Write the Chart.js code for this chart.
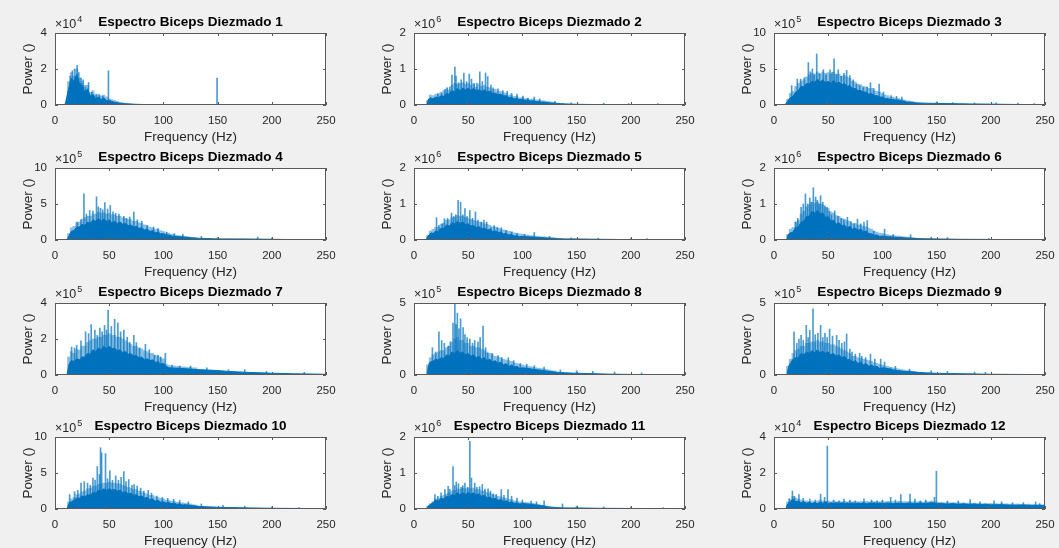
<!DOCTYPE html>
<html>
<head>
<meta charset="utf-8">
<script src="https://cdn.jsdelivr.net/npm/chart.js@4.4.1/dist/chart.umd.min.js"></script>
<style>
  body { margin: 0; background: #f0f0f0; width: 1059px; height: 548px; overflow: hidden; position: relative; }
  canvas { position: absolute; }
</style>
</head>
<body>
<script>
// Espectros de potencia, valores en unidades del multiplicador de cada eje (x10^exp)
const titles = [
  'Espectro Biceps Diezmado 1', 'Espectro Biceps Diezmado 2', 'Espectro Biceps Diezmado 3',
  'Espectro Biceps Diezmado 4', 'Espectro Biceps Diezmado 5', 'Espectro Biceps Diezmado 6',
  'Espectro Biceps Diezmado 7', 'Espectro Biceps Diezmado 8', 'Espectro Biceps Diezmado 9',
  'Espectro Biceps Diezmado 10', 'Espectro Biceps Diezmado 11', 'Espectro Biceps Diezmado 12'
];
const exponents = [4, 6, 5, 5, 6, 6, 5, 5, 5, 5, 6, 4];
const yMax = [4, 2, 10, 10, 2, 2, 4, 5, 5, 10, 2, 4];
const yStep = [2, 1, 5, 5, 1, 1, 2, 5, 5, 5, 1, 2];
const xTicks = [0, 50, 100, 150, 200, 250];

// [frecuencia Hz, potencia] - parte solida del espectro
const body1 = [[0,0],[9,0],[10,0.2],[12.5,0.9],[15,1.5],[17.5,1.3],[20,1.7],[22.5,1.2],[25,1.1],[27.5,0.7],[30,0.9],[32.5,0.5],[35,0.6],[37.5,0.35],[40,0.45],[42.5,0.3],[45,0.4],[47.5,0.25],[50,0.25],[55,0.15],[60,0.1],[65,0.07],[70,0.05],[80,0.03],[100,0.02],[150,0.02],[200,0.02],[250,0.02]];
const body2 = [[0,0],[12,0],[13,0.15],[15,0.2],[17.5,0.17],[20,0.22],[22.5,0.2],[25,0.26],[27.5,0.24],[30,0.32],[32.5,0.3],[35,0.4],[37.5,0.36],[40,0.46],[42.5,0.4],[45,0.47],[47.5,0.42],[50,0.46],[52.5,0.41],[55,0.46],[57.5,0.4],[60,0.42],[62.5,0.38],[65,0.42],[67.5,0.36],[70,0.38],[72.5,0.32],[75,0.33],[77.5,0.28],[80,0.3],[82.5,0.25],[85,0.26],[87.5,0.21],[90,0.21],[92.5,0.17],[95,0.18],[97.5,0.15],[100,0.16],[102.5,0.13],[105,0.14],[107.5,0.11],[110,0.12],[112.5,0.09],[115,0.1],[117.5,0.08],[120,0.08],[125,0.06],[130,0.05],[135,0.04],[140,0.03],[150,0.02],[160,0.015],[180,0.012],[200,0.01],[250,0.008]];
const body3 = [[0,0],[10,0],[11,0.2],[12.5,0.5],[15,1.0],[17.5,1.2],[20,1.8],[22.5,2.0],[25,2.6],[27.5,2.5],[30,3.0],[32.5,2.9],[35,3.3],[37.5,3.1],[40,3.6],[42.5,3.2],[45,3.5],[47.5,3.1],[50,3.3],[52.5,3.0],[55,3.4],[57.5,3.0],[60,3.2],[62.5,2.8],[65,3.0],[67.5,2.6],[70,2.7],[72.5,2.3],[75,2.3],[77.5,2.0],[80,2.0],[82.5,1.8],[85,1.8],[87.5,1.5],[90,1.6],[92.5,1.3],[95,1.3],[97.5,1.1],[100,1.1],[102.5,0.9],[105,0.9],[107.5,0.75],[110,0.8],[112.5,0.65],[115,0.7],[117.5,0.55],[120,0.55],[122.5,0.4],[125,0.4],[130,0.3],[140,0.25],[150,0.22],[160,0.2],[170,0.18],[180,0.15],[200,0.12],[220,0.08],[250,0.05]];
const body4 = [[0,0],[11,0],[12,0.3],[13,0.6],[15,1.2],[17.5,1.3],[20,1.8],[22.5,1.8],[25,2.2],[27.5,2.0],[30,2.5],[32.5,2.3],[35,2.8],[37.5,2.6],[40,3.0],[42.5,2.6],[45,2.9],[47.5,2.6],[50,2.8],[52.5,2.4],[55,2.6],[57.5,2.3],[60,2.5],[62.5,2.2],[65,2.3],[67.5,2.0],[70,2.1],[72.5,1.8],[75,1.9],[77.5,1.6],[80,1.7],[82.5,1.4],[85,1.5],[87.5,1.2],[90,1.3],[92.5,1.0],[95,1.1],[97.5,0.85],[100,0.9],[102.5,0.7],[105,0.7],[107.5,0.55],[110,0.5],[115,0.45],[120,0.4],[125,0.3],[130,0.25],[140,0.2],[150,0.15],[170,0.15],[190,0.12],[200,0.1],[220,0.05],[250,0.03]];
const body5 = [[0,0],[11.5,0],[12.5,0.1],[14,0.15],[16,0.2],[17.5,0.18],[20,0.25],[22.5,0.24],[25,0.33],[27.5,0.32],[30,0.42],[32.5,0.38],[35,0.48],[37.5,0.45],[40,0.52],[42.5,0.46],[45,0.5],[47.5,0.43],[50,0.45],[52.5,0.39],[55,0.4],[57.5,0.35],[60,0.37],[62.5,0.31],[65,0.33],[67.5,0.28],[70,0.3],[72.5,0.24],[75,0.25],[77.5,0.21],[80,0.22],[82.5,0.17],[85,0.18],[87.5,0.14],[90,0.15],[92.5,0.11],[95,0.12],[97.5,0.09],[100,0.1],[105,0.09],[110,0.08],[115,0.07],[120,0.06],[125,0.05],[130,0.04],[140,0.03],[150,0.03],[170,0.02],[200,0.01],[250,0.005]];
const body6 = [[0,0],[12,0],[13,0.15],[15,0.2],[17.5,0.22],[20,0.35],[22.5,0.36],[25,0.5],[27.5,0.52],[30,0.65],[32.5,0.66],[35,0.8],[37.5,0.75],[40,0.82],[42.5,0.72],[45,0.75],[47.5,0.62],[50,0.65],[52.5,0.52],[55,0.55],[57.5,0.44],[60,0.48],[62.5,0.39],[65,0.42],[67.5,0.34],[70,0.38],[72.5,0.3],[75,0.33],[77.5,0.27],[80,0.3],[82.5,0.23],[85,0.25],[87.5,0.18],[90,0.17],[92.5,0.13],[95,0.14],[97.5,0.1],[100,0.11],[105,0.09],[110,0.08],[115,0.07],[120,0.06],[125,0.05],[130,0.04],[140,0.035],[150,0.03],[170,0.02],[200,0.015],[250,0.01]];
const body7 = [[0,0],[11,0],[12,0.3],[13,0.6],[15,0.8],[17.5,0.75],[20,0.9],[22.5,0.85],[25,1.0],[27.5,1.0],[30,1.2],[32.5,1.15],[35,1.4],[37.5,1.3],[40,1.5],[42.5,1.4],[45,1.6],[47.5,1.45],[50,1.6],[52.5,1.45],[55,1.5],[57.5,1.35],[60,1.4],[62.5,1.25],[65,1.3],[67.5,1.15],[70,1.2],[72.5,1.05],[75,1.1],[77.5,0.95],[80,1.0],[82.5,0.85],[85,0.9],[87.5,0.8],[90,0.85],[92.5,0.7],[95,0.75],[97.5,0.6],[100,0.65],[102,0.5],[105,0.4],[110,0.38],[115,0.37],[120,0.35],[130,0.3],[140,0.28],[150,0.25],[160,0.2],[170,0.17],[180,0.14],[190,0.12],[200,0.1],[220,0.07],[250,0.04]];
const body8 = [[0,0],[12,0],[13,0.5],[14,0.8],[15,0.9],[17.5,0.95],[20,1.1],[22.5,1.05],[25,1.2],[27.5,1.15],[30,1.4],[32.5,1.3],[35,1.6],[37.5,1.5],[40,1.7],[42.5,1.5],[45,1.6],[47.5,1.4],[50,1.5],[52.5,1.3],[55,1.4],[57.5,1.2],[60,1.3],[62.5,1.1],[65,1.2],[67.5,1.0],[70,1.1],[72.5,0.9],[75,1.0],[77.5,0.8],[80,0.9],[82.5,0.7],[85,0.8],[87.5,0.6],[90,0.7],[92.5,0.55],[95,0.6],[97.5,0.45],[100,0.5],[105,0.45],[110,0.4],[115,0.35],[120,0.3],[130,0.2],[140,0.15],[150,0.12],[160,0.1],[170,0.08],[180,0.06],[200,0.04],[250,0.02]];
const body9 = [[0,0],[12,0],[13,0.4],[14,0.7],[15,0.8],[17.5,1.1],[20,1.2],[22.5,1.2],[25,1.5],[27.5,1.4],[30,1.6],[32.5,1.5],[35,1.7],[37.5,1.55],[40,1.75],[42.5,1.55],[45,1.65],[47.5,1.5],[50,1.6],[52.5,1.4],[55,1.5],[57.5,1.3],[60,1.4],[62.5,1.2],[65,1.3],[67.5,1.05],[70,1.1],[72.5,0.9],[75,1.0],[77.5,0.8],[80,0.9],[82.5,0.7],[85,0.8],[87.5,0.6],[90,0.7],[92.5,0.55],[95,0.6],[97.5,0.45],[100,0.5],[105,0.45],[110,0.35],[115,0.3],[120,0.25],[130,0.2],[140,0.15],[150,0.12],[160,0.1],[180,0.08],[200,0.05],[250,0.03]];
const body10 = [[0,0],[11,0],[12,0.4],[13,0.8],[15,1.0],[17.5,1.2],[20,1.5],[22.5,1.5],[25,1.8],[27.5,1.7],[30,2.0],[32.5,1.9],[35,2.3],[37.5,2.2],[40,2.6],[42.5,2.5],[45,2.8],[47.5,2.6],[50,2.8],[52.5,2.6],[55,2.7],[57.5,2.5],[60,2.6],[62.5,2.3],[65,2.4],[67.5,2.1],[70,2.2],[72.5,1.9],[75,2.0],[77.5,1.7],[80,1.8],[82.5,1.5],[85,1.6],[87.5,1.3],[90,1.4],[92.5,1.1],[95,1.2],[97.5,0.95],[100,1.0],[102.5,0.85],[105,0.9],[107.5,0.75],[110,0.8],[112.5,0.65],[115,0.7],[117.5,0.55],[120,0.6],[125,0.5],[130,0.4],[140,0.3],[150,0.25],[160,0.2],[170,0.18],[180,0.15],[200,0.1],[250,0.05]];
const body11 = [[0,0],[12,0],[13,0.08],[14,0.1],[15,0.12],[17.5,0.18],[20,0.25],[22.5,0.22],[25,0.3],[27.5,0.28],[30,0.35],[32.5,0.33],[35,0.4],[37.5,0.37],[40,0.45],[42.5,0.4],[45,0.45],[47.5,0.4],[50,0.46],[52.5,0.41],[55,0.45],[57.5,0.39],[60,0.42],[62.5,0.35],[65,0.38],[67.5,0.31],[70,0.33],[72.5,0.27],[75,0.3],[77.5,0.24],[80,0.26],[82.5,0.21],[85,0.23],[87.5,0.18],[90,0.2],[92.5,0.16],[95,0.17],[97.5,0.14],[100,0.15],[105,0.14],[110,0.12],[115,0.1],[120,0.08],[125,0.05],[130,0.04],[140,0.03],[150,0.03],[170,0.02],[200,0.015],[250,0.01]];
const body12 = [[0,0],[11,0],[12,0.2],[13,0.3],[15,0.4],[17.5,0.55],[20,0.4],[22.5,0.45],[25,0.35],[27.5,0.4],[30,0.32],[32.5,0.38],[35,0.3],[37.5,0.36],[40,0.3],[42.5,0.38],[45,0.32],[47.5,0.4],[50,0.3],[52.5,0.35],[55,0.3],[57.5,0.36],[60,0.3],[62.5,0.35],[65,0.3],[67.5,0.34],[70,0.3],[72.5,0.34],[75,0.28],[77.5,0.34],[80,0.3],[82.5,0.35],[85,0.29],[87.5,0.34],[90,0.3],[92.5,0.35],[95,0.29],[97.5,0.34],[100,0.3],[105,0.34],[110,0.29],[115,0.33],[120,0.3],[125,0.34],[130,0.29],[135,0.33],[140,0.3],[145,0.36],[150,0.3],[155,0.3],[160,0.27],[165,0.3],[170,0.26],[175,0.29],[180,0.25],[185,0.28],[190,0.24],[195,0.26],[200,0.23],[210,0.24],[220,0.21],[230,0.22],[240,0.19],[250,0.18]];

// franja difusa por encima de la parte solida, muestreada cada 2.5 Hz
const haloFreqs = [12.5,15,17.5,20,22.5,25,27.5,30,32.5,35,37.5,40,
  42.5,45,47.5,50,52.5,55,57.5,60,62.5,65,67.5,70,
  72.5,75,77.5,80,82.5,85,87.5,90,92.5,95,97.5,100,
  102.5,105,107.5,110,112.5,115,117.5,120,122.5,125,127.5,130,
  132.5,135,137.5,140,142.5,145,147.5,150,152.5,155,157.5,160,
  162.5,165,167.5,170,172.5,175,177.5,180,182.5,185,187.5,190,
  192.5,195,197.5,200,202.5,205,207.5,210,212.5,215,217.5,220,
  222.5,225,227.5,230,232.5,235,237.5,240,242.5,245,247.5,250];
const halo1 = [1.3,1.8,1.6,2.0,1.5,1.3,1.1,1.1,0.7,0.8,0.6,0.6,
  0.5,0.55,0.45,0.35,0.3,0.25,0.2,0.15,0.12,0.1,0.08,0.07];
const halo2 = [0.12,0.28,0.26,0.3,0.32,0.36,0.4,0.45,0.42,0.55,0.6,0.58,
  0.6,0.62,0.58,0.6,0.55,0.6,0.5,0.58,0.52,0.55,0.5,0.48,
  0.42,0.44,0.38,0.38,0.34,0.33,0.28,0.28,0.24,0.24,0.2,0.21,
  0.18,0.19,0.16,0.17,0.14,0.14,0.12,0.12,0.1,0.09,0.08,0.07];
const halo3 = [0.8,1.6,1.9,2.6,3.0,3.3,3.5,3.9,4.2,4.4,4.3,4.6,
  4.3,4.6,4.4,4.5,4.3,4.6,4.2,4.3,4.0,4.1,3.9,3.7,
  3.3,3.2,2.9,2.8,2.6,2.5,2.3,2.3,2.0,1.9,1.8,1.6,
  1.4,1.3,1.1,1.1,0.95,0.9,0.8,0.7,0.6,0.55,0.5,0.4];
const halo4 = [0.9,1.7,1.9,2.4,2.5,2.9,3.1,3.3,3.3,3.6,3.6,3.9,
  3.7,3.8,3.6,3.7,3.5,3.5,3.3,3.3,3.1,3.0,2.9,2.8,
  2.6,2.6,2.4,2.3,2.1,2.0,1.8,1.7,1.5,1.5,1.3,1.2,
  1.0,0.95,0.8,0.75,0.65,0.6,0.55,0.5,0.45,0.4,0.38,0.35];
const halo5 = [0.12,0.25,0.3,0.35,0.36,0.44,0.47,0.55,0.56,0.62,0.64,0.68,
  0.66,0.66,0.63,0.6,0.57,0.55,0.52,0.5,0.48,0.45,0.44,0.41,
  0.37,0.36,0.33,0.31,0.28,0.27,0.24,0.23,0.2,0.19,0.17,0.16,
  0.14,0.14,0.12,0.12,0.1,0.1,0.09,0.09,0.08,0.07,0.07,0.06];
const halo6 = [0.15,0.3,0.35,0.5,0.55,0.72,0.8,0.92,0.98,1.05,1.02,1.05,
  1.0,0.98,0.9,0.88,0.78,0.75,0.68,0.66,0.6,0.58,0.54,0.52,
  0.46,0.46,0.42,0.42,0.38,0.37,0.33,0.3,0.24,0.22,0.19,0.18,
  0.16,0.15,0.13,0.13,0.11,0.11,0.1,0.09,0.08,0.08,0.07,0.06];
const halo7 = [1.0,1.3,1.2,1.4,1.4,1.6,1.6,1.8,1.9,2.0,2.0,2.1,
  2.1,2.2,2.2,2.3,2.2,2.2,2.1,2.1,2.0,1.9,1.8,1.7,
  1.6,1.6,1.5,1.45,1.35,1.3,1.2,1.2,1.1,1.05,0.95,0.9,
  0.6,0.55,0.5,0.5,0.48,0.47,0.45,0.45,0.42,0.42,0.4,0.4];
const halo8 = [0.7,1.2,1.4,1.5,1.6,1.7,1.7,1.9,2.0,2.3,2.5,2.6,
  2.4,2.4,2.2,2.2,2.0,2.0,1.9,1.9,1.8,1.7,1.6,1.5,
  1.4,1.3,1.25,1.2,1.1,1.05,1.0,0.95,0.85,0.8,0.75,0.7,
  0.65,0.62,0.58,0.55,0.5,0.48,0.45,0.42,0.38,0.35,0.3,0.28];
const halo9 = [0.6,1.1,1.5,1.7,1.8,2.0,2.0,2.2,2.2,2.3,2.3,2.4,
  2.3,2.3,2.2,2.2,2.1,2.1,2.0,1.9,1.8,1.7,1.6,1.5,
  1.3,1.3,1.2,1.15,1.1,1.05,1.0,0.95,0.85,0.8,0.75,0.7,
  0.62,0.6,0.52,0.5,0.45,0.42,0.38,0.35,0.32,0.3,0.28,0.26];
const halo10 = [1.0,1.4,1.6,2.0,2.1,2.4,2.5,2.8,2.9,3.1,3.2,3.4,
  3.5,3.6,3.6,3.7,3.6,3.6,3.5,3.5,3.3,3.2,3.0,2.9,
  2.7,2.7,2.5,2.4,2.2,2.1,1.9,1.9,1.7,1.6,1.5,1.4,
  1.25,1.2,1.1,1.05,0.95,0.9,0.85,0.8,0.75,0.7,0.6,0.55];
const halo11 = [0.08,0.15,0.2,0.28,0.3,0.35,0.38,0.42,0.45,0.5,0.52,0.56,
  0.55,0.58,0.56,0.58,0.56,0.58,0.54,0.54,0.5,0.5,0.46,0.44,
  0.4,0.39,0.35,0.34,0.31,0.3,0.27,0.26,0.23,0.22,0.2,0.19,
  0.18,0.18,0.16,0.16,0.14,0.13,0.11,0.1,0.08,0.07,0.06,0.05];
const halo12 = [0.4,0.55,0.7,0.6,0.55,0.5,0.45,0.45,0.42,0.44,0.4,0.45,
  0.5,0.45,0.42,0.45,0.4,0.44,0.4,0.43,0.4,0.42,0.4,0.43,
  0.4,0.42,0.4,0.42,0.4,0.43,0.4,0.42,0.4,0.42,0.4,0.42,
  0.4,0.43,0.4,0.42,0.4,0.44,0.4,0.42,0.4,0.43,0.4,0.42,
  0.4,0.42,0.38,0.42,0.4,0.45,0.4,0.38,0.36,0.38,0.35,0.37,
  0.34,0.36,0.34,0.35,0.33,0.35,0.32,0.34,0.32,0.33,0.3,0.32,
  0.3,0.32,0.3,0.31,0.29,0.3,0.28,0.3,0.28,0.29,0.27,0.28,
  0.27,0.28,0.26,0.27,0.26,0.27,0.25,0.26,0.25,0.26,0.24,0.25];

// [frecuencia Hz, potencia] - picos aislados
const spikes1 = [[14,1.6],[16,1.9],[18,2.0],[20.5,2.2],[22,1.8],[24,1.5],[26,1.4],[28,1.0],[31,1.25],[34,0.7],[38,0.55],[41,0.55],[44,0.5],[49.3,1.9],[149.5,1.5]];
const spikes2 = [[22,0.3],[25.5,0.32],[28.5,0.43],[30.6,0.48],[33,0.5],[35,0.83],[37.7,1.05],[38.8,0.8],[41,0.62],[43.5,0.7],[46,0.89],[48.5,0.65],[51,0.86],[53,0.72],[55.5,0.58],[58,0.6],[60.7,0.92],[63,0.65],[66,0.89],[68,0.79],[71,0.55],[73,0.48],[77.5,0.45],[82,0.4],[86,0.38],[90,0.32],[95,0.3],[100.5,0.25],[105,0.18],[111,0.22],[116,0.17],[130,0.1],[145,0.06],[175,0.05],[198,0.04],[225,0.04]];
const spikes3 = [[16.3,2.7],[21.5,3.6],[24.6,3.6],[28,3.8],[31.7,5.9],[33.5,4.6],[35.4,5.0],[37,4.2],[39.4,7.1],[42,4.4],[45.5,4.9],[48,4.2],[51.7,4.9],[53.5,4.5],[55.4,6.4],[57.5,4.3],[59.3,4.9],[62,4.0],[64.5,4.4],[67,4.8],[70,4.1],[73,3.5],[76,2.9],[79,2.7],[82.4,2.4],[86,2.5],[89,3.1],[92,2.3],[97,2.9],[101,1.8],[108,1.3],[113,1.2],[118,1.1],[150,0.45],[165,0.35],[185,0.3],[205,0.3],[225,0.25],[240,0.2]];
const spikes4 = [[20.5,2.5],[24,2.8],[26.7,6.4],[29,3.6],[32,4.1],[35,4.0],[38.3,6.0],[40,4.6],[42,4.4],[44,4.2],[46,5.2],[48.5,4.3],[51,4.8],[53.5,3.9],[56,3.7],[59,3.6],[63.5,3.3],[66,3.0],[69,3.2],[72.7,3.9],[76,2.8],[80,2.6],[85,2.0],[91,1.8],[95,1.6],[103,1.1],[110,0.9],[118,0.8],[135,0.5],[150,0.35],[187,0.4],[200,0.3]];
const spikes5 = [[20.8,0.62],[23,0.4],[26,0.45],[28,0.59],[31,0.6],[34.6,0.75],[36.5,0.65],[38.5,0.7],[40.7,1.1],[43,1.05],[45,0.7],[47,0.87],[49,0.65],[51.5,0.82],[54,0.6],[56.7,0.78],[59,0.55],[62,0.5],[64.5,0.55],[67,0.5],[71,0.34],[74,0.4],[77,0.35],[80.5,0.34],[85,0.26],[90,0.22],[95,0.18],[102,0.16],[111,0.21],[125,0.1],[145,0.06],[170,0.05],[200,0.04],[215,0.04]];
const spikes6 = [[20,0.5],[22,0.6],[25,0.91],[27,1.0],[29,1.28],[31,1.0],[33,1.17],[34.5,1.05],[36.3,1.45],[38.4,1.19],[40,1.1],[41.5,1.0],[43,1.23],[45,1.05],[47,0.95],[49,0.91],[51,0.8],[53,0.7],[56,0.81],[59,0.65],[62,0.6],[64.5,0.55],[67.7,0.63],[71,0.5],[74,0.45],[77,0.58],[80,0.45],[83,0.5],[86,0.54],[92,0.25],[102,0.3],[110,0.15],[126,0.15],[145,0.08],[160,0.07],[198,0.04]];
const spikes7 = [[15.3,1.55],[18,1.5],[20,1.65],[24,1.9],[28.2,2.4],[31,2.3],[33.4,2.8],[36.8,2.5],[39,2.2],[41.4,2.6],[43.5,2.4],[45.7,2.75],[47.5,2.5],[49,3.6],[52,2.7],[55,3.1],[58,2.9],[60.5,2.4],[63.5,2.5],[66.6,2.1],[69,1.8],[72.7,2.2],[75,1.8],[78,1.5],[83.4,1.7],[87,1.4],[91.7,1.1],[95,1.1],[97.5,1.0],[101.8,1.2],[108,0.55],[115,0.5],[125,0.5],[140,0.4],[160,0.3],[175,0.3],[195,0.2],[230,0.15]];
const spikes8 = [[17,1.9],[20,1.6],[23,3.0],[25.5,2.4],[28,2.2],[31.5,2.0],[33.5,2.3],[36,3.6],[37.7,4.95],[38.8,3.5],[40,4.3],[41.5,3.2],[43,3.9],[45.3,3.3],[47,2.8],[49,2.6],[51.5,2.5],[54,2.2],[56,2.4],[59,2.3],[61,2.6],[63.7,3.4],[66,1.9],[68,1.5],[72,1.5],[77.5,1.35],[81,1.2],[87,1.2],[92,1.0],[98,0.8],[104,0.75],[111,0.65],[120,0.55],[135,0.35],[150,0.3],[165,0.25],[185,0.2],[210,0.15]];
const spikes9 = [[18.5,3.0],[21,2.2],[23,2.5],[25,2.75],[27,2.4],[29.8,3.45],[31.5,2.6],[33,3.1],[36,4.6],[38,2.8],[40.5,2.9],[43,3.45],[45,2.6],[47,2.9],[49,2.6],[51.3,3.2],[54,2.7],[57.8,2.75],[60,2.4],[62.5,2.2],[65,2.3],[67,2.85],[70,1.8],[72,1.6],[75,1.45],[79,1.5],[81,1.3],[84.5,1.2],[89,1.45],[93,1.1],[98.4,1.1],[102,0.9],[107.6,0.5],[112,0.6],[125,0.4],[145,0.3],[160,0.25],[185,0.2],[195,0.18]];
const spikes10 = [[13.5,2.0],[18,2.4],[21,2.6],[24,3.6],[27,3.8],[30,3.6],[32.5,3.3],[35,4.3],[37,4.0],[39,5.9],[41,4.8],[42,8.5],[43,7.8],[46.6,7.7],[48.5,4.2],[50.6,5.3],[53,4.0],[56,4.6],[58.5,4.0],[61,4.4],[63.5,5.2],[65.5,3.8],[68,4.1],[71,3.3],[73,3.4],[75.8,3.2],[79,2.9],[82,2.5],[86,2.6],[89,2.2],[94,1.8],[99,1.6],[104,1.5],[109.5,1.35],[115,1.2],[123,1.0],[135,0.7],[155,0.5],[175,0.4],[200,0.3],[225,0.2]];
const spikes11 = [[19.3,0.4],[22,0.35],[25,0.45],[28.5,0.54],[31.5,0.63],[33,0.55],[36,1.18],[37.5,0.65],[39,0.75],[41,0.7],[43.5,0.6],[45,0.65],[47,0.72],[49.5,0.6],[51.5,1.88],[53,0.86],[56,0.72],[58,0.6],[60.5,0.62],[63,0.68],[65.5,0.55],[68.3,0.56],[70.5,0.5],[73,0.42],[76,0.4],[80.5,0.54],[83,0.38],[86.7,0.54],[90,0.35],[95,0.3],[100,0.25],[108,0.22],[113,0.2],[120,0.23],[137,0.14],[150,0.08],[175,0.06],[200,0.05],[230,0.04]];
const spikes12 = [[14,0.57],[17,1.0],[19,0.7],[23,0.8],[27,0.6],[33,0.55],[38,0.5],[43,0.83],[46.7,0.65],[49.2,3.5],[55,0.5],[60,0.45],[64.6,0.55],[70,0.5],[75,0.45],[83,0.57],[90,0.5],[95,0.45],[100,0.5],[107.6,0.65],[112,0.5],[117,0.8],[125.5,0.83],[130,0.55],[135,0.45],[140,0.5],[148,0.65],[149.8,2.1],[160,0.45],[170,0.45],[181,0.52],[190,0.4],[203,0.46],[210,0.4],[220,0.35],[230,0.35],[241.4,0.39],[245,0.3]];

const bodies = [body1, body2, body3, body4, body5, body6, body7, body8, body9, body10, body11, body12];
const halos = [halo1, halo2, halo3, halo4, halo5, halo6, halo7, halo8, halo9, halo10, halo11, halo12];
const spikes = [spikes1, spikes2, spikes3, spikes4, spikes5, spikes6, spikes7, spikes8, spikes9, spikes10, spikes11, spikes12];

// posicion de las areas de trazado
const colLefts = [55, 414, 774];
const rowTops = [33, 168, 303, 437];
const plotW = 271, plotH = 72;
const padLeft = 55, padTop = 33, padRight = 14, padBottom = 40;

const FONT = '"Liberation Sans", Arial, Helvetica, sans-serif';
const TXT = '#262626';
const LINE = '#0072BD';

Chart.defaults.font.family = FONT;
Chart.defaults.color = TXT;

const axesDecor = {
  id: 'axesDecor',
  beforeDraw(chart) {
    const a = chart.chartArea, ctx = chart.ctx;
    ctx.save();
    ctx.fillStyle = '#ffffff';
    ctx.fillRect(a.left, a.top, a.width, a.height);
    ctx.restore();
  },
  afterDraw(chart) {
    const a = chart.chartArea, ctx = chart.ctx;
    const o = chart.options.plugins.axesDecor;
    ctx.save();
    ctx.strokeStyle = '#5a5a5a';
    ctx.lineWidth = 1;
    ctx.strokeRect(a.left + 0.5, a.top + 0.5, a.width - 1, a.height - 1);
    // marcas interiores
    ctx.beginPath();
    chart.scales.x.ticks.forEach(t => {
      const px = Math.round(chart.scales.x.getPixelForValue(t.value)) + 0.5;
      ctx.moveTo(px, a.bottom); ctx.lineTo(px, a.bottom - 3);
      ctx.moveTo(px, a.top); ctx.lineTo(px, a.top + 3);
    });
    chart.scales.y.ticks.forEach(t => {
      const py = Math.round(chart.scales.y.getPixelForValue(t.value)) + 0.5;
      ctx.moveTo(a.left, py); ctx.lineTo(a.left + 3, py);
      ctx.moveTo(a.right, py); ctx.lineTo(a.right - 3, py);
    });
    ctx.stroke();
    // titulo
    ctx.fillStyle = '#000';
    ctx.font = 'bold 13.5px ' + FONT;
    ctx.textAlign = 'center';
    ctx.textBaseline = 'alphabetic';
    ctx.fillText(o.title, (a.left + a.right) / 2, a.top - 7);
    // multiplicador
    ctx.fillStyle = TXT;
    ctx.textAlign = 'left';
    ctx.font = '12.5px ' + FONT;
    ctx.fillText('\u00d710', a.left, a.top - 5);
    const w = ctx.measureText('\u00d710').width;
    ctx.font = '9px ' + FONT;
    ctx.fillText(String(o.exp), a.left + w + 1, a.top - 11);
    ctx.restore();
  }
};

titles.forEach((title, i) => {
  const c = document.createElement('canvas');
  const W = padLeft + plotW + padRight, H = padTop + plotH + padBottom;
  c.width = W; c.height = H;
  c.style.left = (colLefts[i % 3] - padLeft) + 'px';
  c.style.top = (rowTops[Math.floor(i / 3)] - padTop) + 'px';
  c.style.width = W + 'px'; c.style.height = H + 'px';
  document.body.appendChild(c);

  new Chart(c, {
    type: 'line',
    data: {
      datasets: [
        { type: 'bar', grouped: false, data: spikes[i].map(([x, y]) => ({ x, y })), backgroundColor: 'rgba(0,114,189,0.7)', barThickness: 1, borderWidth: 0 },
        { type: 'line', data: bodies[i].map(([x, y]) => ({ x, y })), borderColor: LINE, backgroundColor: LINE, borderWidth: 1, pointRadius: 0, tension: 0, fill: 'origin' },
        { type: 'bar', grouped: false, data: halos[i].map((y, k) => ({ x: haloFreqs[k], y })), backgroundColor: 'rgba(0,114,189,0.45)', barThickness: 2.2, borderWidth: 0 }
      ]
    },
    options: {
      responsive: false,
      animation: false,
      events: [],
      layout: { padding: { top: padTop, right: padRight, left: 0, bottom: 0 } },
      plugins: {
        legend: { display: false },
        tooltip: { enabled: false },
        axesDecor: { title: title, exp: exponents[i] }
      },
      scales: {
        x: {
          type: 'linear', min: 0, max: 250, offset: false,
          afterBuildTicks: s => { s.ticks = xTicks.map(v => ({ value: v })); },
          ticks: { font: { size: 11.5 }, color: TXT, padding: 9, maxRotation: 0 },
          grid: { display: false, drawTicks: false, offset: false },
          border: { display: false },
          title: { display: true, text: 'Frequency (Hz)', font: { size: 13.5 }, color: TXT, padding: { top: 0, bottom: 0 } },
          afterFit: s => { s.height = padBottom; s.paddingLeft = 0; s.paddingRight = 0; }
        },
        y: {
          min: 0, max: yMax[i],
          ticks: { stepSize: yStep[i], font: { size: 11.5 }, color: TXT, padding: 8 },
          grid: { display: false, drawTicks: false },
          border: { display: false },
          title: { display: true, text: 'Power ()', font: { size: 13.5 }, color: TXT, padding: { top: 20, bottom: 0 } },
          afterFit: s => { s.width = padLeft; s.paddingTop = 0; s.paddingBottom = 0; }
        }
      }
    },
    plugins: [axesDecor]
  });
});
</script>
</body>
</html>
